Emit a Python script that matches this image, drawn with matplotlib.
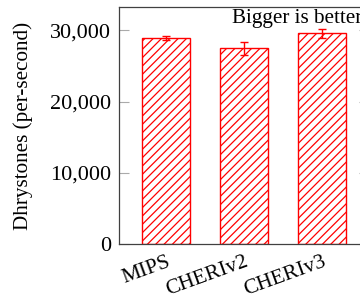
import matplotlib
matplotlib.use("Agg")
import matplotlib.pyplot as plt
import matplotlib.transforms as mtransforms
import numpy as np

categories = ["MIPS", "CHERIv2", "CHERIv3"]
values = [28900, 27450, 29550]
errors = [250, 850, 650]
yticks = [0, 10000, 20000, 30000]
ytick_labels = ["0", "10,000", "20,000", "30,000"]

plt.rcParams["font.family"] = ["Liberation Serif", "DejaVu Serif"]
plt.rcParams["hatch.color"] = "red"
plt.rcParams["hatch.linewidth"] = 0.9

fig = plt.figure(figsize=(3.6, 3.03), dpi=100)
ax = fig.add_axes([119.3 / 360, 58.7 / 303, 250.0 / 360, 237.6 / 303])

x = np.arange(len(categories))
ax.bar(x, values, width=0.615, color="white", edgecolor="red",
       hatch="////", linewidth=1.0, zorder=2)
ax.errorbar(x, values, yerr=errors, fmt="none", ecolor="red",
            elinewidth=1.0, capsize=3, capthick=1.0, zorder=3)

ax.set_xlim(-0.605, 2.605)
ax.set_ylim(0, 33300)
ax.set_yticks(yticks)
ax.set_yticklabels(ytick_labels, fontsize=16)
ax.set_xticks(x)
ax.set_xticklabels(categories, fontsize=15.5, rotation=20, ha="right",
                   rotation_mode="anchor")
offset = mtransforms.ScaledTranslation(-23 / 100, 0, fig.dpi_scale_trans)
for lab in ax.get_xticklabels():
    lab.set_transform(lab.get_transform() + offset)

ax.tick_params(axis="y", direction="in", length=7.5, color="#aaaaaa",
               width=0.8, pad=6, right=True)
ax.tick_params(axis="x", length=0, pad=6)

for s in ax.spines.values():
    s.set_color("#404040")
    s.set_linewidth(0.9)

ax.set_ylabel("Dhrystones (per-second)", fontsize=15.2, labelpad=12)
ax.text(0.972, 0.99, "Bigger is better", transform=ax.transAxes,
        ha="right", va="top", fontsize=15.2)

fig.savefig("out.png", dpi=100)
